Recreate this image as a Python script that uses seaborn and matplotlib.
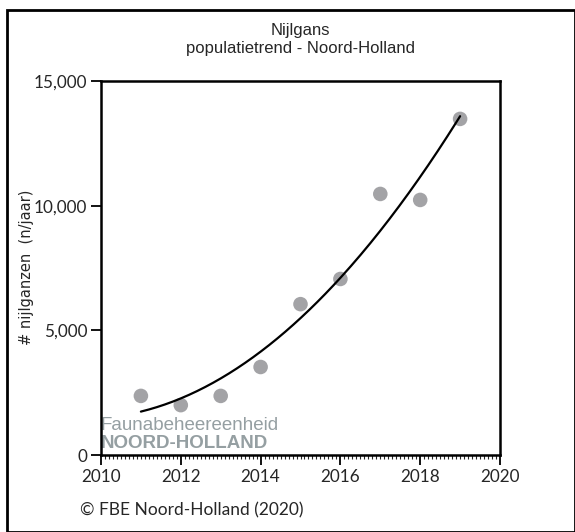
import numpy as np
import pandas as pd
import seaborn as sns
import matplotlib.pyplot as plt
from matplotlib.patches import Rectangle
from matplotlib.ticker import FuncFormatter, MultipleLocator

years = [2011, 2012, 2013, 2014, 2015, 2016, 2017, 2018, 2019]
counts = [2370, 2000, 2370, 3530, 6050, 7060, 10470, 10230, 13480]

df = pd.DataFrame({"jaar": years, "aantal": counts})

# second order trend fitted on the counts
coef = np.polyfit(df["jaar"] - 2010, df["aantal"], 2)
xs = np.linspace(2011, 2019, 200)
trend = pd.DataFrame({"jaar": xs, "aantal": np.polyval(coef, xs - 2010)})

sns.set_style("white")
fig = plt.figure(figsize=(5.75, 5.32), dpi=100)
ax = fig.add_axes([101 / 575, 1 - 455 / 532, 399 / 575, 374 / 532])

sns.scatterplot(data=df, x="jaar", y="aantal", ax=ax, color="#a3a3a6", s=110, edgecolor="none", zorder=3)
sns.lineplot(data=trend, x="jaar", y="aantal", ax=ax, color="black", linewidth=1.6, zorder=4)

ax.set_xlim(2010, 2020)
ax.set_ylim(0, 15000)
ax.set_xticks([2010, 2012, 2014, 2016, 2018, 2020])
ax.set_yticks([0, 5000, 10000, 15000])
ax.xaxis.set_minor_locator(MultipleLocator(0.1))
ax.yaxis.set_major_formatter(FuncFormatter(lambda v, p: f"{int(v):,}"))
ax.tick_params(axis="both", which="major", direction="out", length=7, width=1.3, color="black",
               labelsize=12.3, pad=3, bottom=True, left=True)
ax.tick_params(axis="x", which="minor", direction="out", length=3, width=0.8, bottom=True)
for lab in ax.get_xticklabels() + ax.get_yticklabels():
    lab.set_fontfamily("Lato")
for s in ax.spines.values():
    s.set_visible(True)
    s.set_color("black")
    s.set_linewidth(1.8)

ax.set_xlabel("")
ax.set_ylabel("# nijlganzen  (n/jaar)", fontsize=10.5, family="DejaVu Sans")
ax.yaxis.set_label_coords(-(101 - 34) / 399, (455 - 267) / 374)

fig.text(300 / 575, 1 - 30 / 532, "Nijlgans", ha="center", va="center", fontsize=12, family="Liberation Sans")
fig.text(300 / 575, 1 - 48 / 532, "populatietrend - Noord-Holland", ha="center", va="center",
         fontsize=12, family="Liberation Sans")

ax.text(0.0, (455 - 425) / 374, "Faunabeheereenheid", transform=ax.transAxes, fontsize=13.5,
        color="#959fa2", family="Liberation Sans", ha="left", va="center", zorder=2)
ax.text(0.0, (455 - 444) / 374, "NOORD-HOLLAND", transform=ax.transAxes, fontsize=13.5, fontweight="bold",
        color="#959fa2", family="Liberation Sans", ha="left", va="center", zorder=2)

fig.text(80 / 575, 1 - 510 / 532, "© FBE Noord-Holland (2020)", ha="left", va="center",
         fontsize=12.5, family="Lato")

fig.patches.append(Rectangle((7 / 575, 0.0), 1 - 7 / 575, 1 - 10 / 532, transform=fig.transFigure,
                             fill=False, edgecolor="black", linewidth=2))

fig.savefig("out.png", dpi=100)
plt.close()
